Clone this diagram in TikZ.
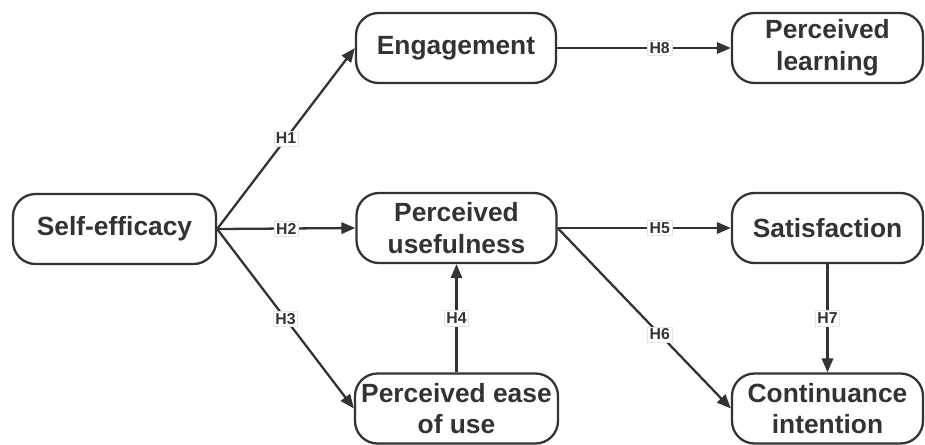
\documentclass[tikz,border=0pt]{standalone}
\usepackage{fontspec}
\setmainfont{Liberation Sans}
\usepackage{tikz}
\usetikzlibrary{arrows.meta}
\definecolor{ink}{HTML}{333333}
\tikzset{
    construct/.style={draw=ink, line width=1.3pt, rounded corners=0.45cm,
        minimum width=4cm, minimum height=1.4cm, align=center, text=ink,
        font=\fontsize{15}{18}\selectfont\bfseries, inner sep=1pt},
    path/.style={draw=ink, line width=1.3pt, -{Triangle[length=8pt,width=6.5pt]}},
    hyp/.style={fill=white, draw=gray!20, line width=0.3pt, text=ink,
        font=\fontsize{9}{10}\selectfont\bfseries, inner sep=1.2pt}
}

\begin{document}
\begin{tikzpicture}
          \useasboundingbox (0,0) rectangle (18.5,-8.88);
          % constructs
          \node[construct, minimum width=4.06cm] (self) at (2.29,-4.58) {Self-efficacy};
          \node[construct] (eng) at (9.12,-0.96) {Engagement};
          \node[construct, minimum width=3.82cm] (learn) at (16.55,-0.96) {Perceived\\learning};
          \node[construct] (use) at (9.13,-4.56) {Perceived\\usefulness};
          \node[construct, minimum width=3.82cm] (sat) at (16.55,-4.56) {Satisfaction};
          \node[construct, minimum width=4.06cm] (ease) at (9.13,-8.17) {Perceived ease\\of use};
          \node[construct, minimum width=3.82cm] (cont) at (16.55,-8.17) {Continuance\\intention};
          % hypotheses
          \draw[path] (self.east) -- node[hyp] {H1} (eng.west);
          \draw[path] (self.east) -- node[hyp] {H2} (use.west);
          \draw[path] (self.east) -- node[hyp] {H3} (ease.west);
          \draw[path] (ease.north) -- node[hyp] {H4} (use.south);
          \draw[path] (use.east) -- node[hyp, pos=0.59] {H5} (sat.west);
          \draw[path] (use.east) -- node[hyp, pos=0.59] {H6} (cont.west);
          \draw[path] (sat.south) -- node[hyp] {H7} (cont.north);
          \draw[path] (eng.east) -- node[hyp, pos=0.59] {H8} (learn.west);
        \end{tikzpicture}
\end{document}
